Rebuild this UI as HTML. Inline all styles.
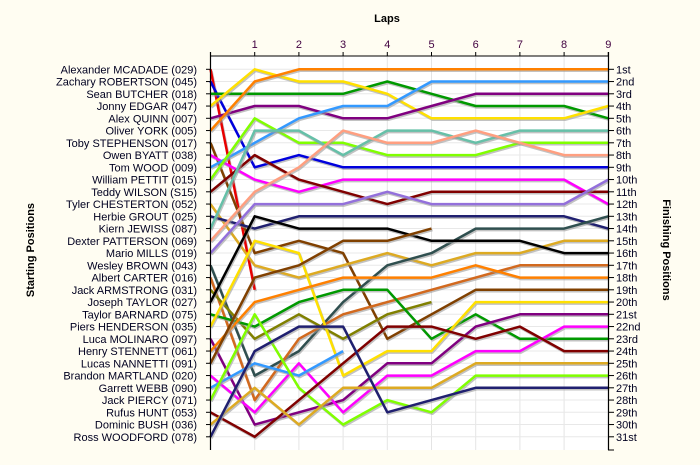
<!DOCTYPE html>
<html><head><meta charset="utf-8"><style>
html,body{margin:0;padding:0;background:#fffdf2;}
svg{display:block;font-family:"Liberation Sans",sans-serif;}
</style></head><body>
<svg id="chart" width="700" height="465" xmlns="http://www.w3.org/2000/svg">
<rect x="0" y="0" width="700" height="465" fill="#fffdf2"/>
<rect x="210" y="56" width="398" height="394" fill="#ffffff"/>
<g id="grid"></g>
<g id="series"></g>
<g id="axes"></g>
<text x="387" y="22" text-anchor="middle" font-size="11" font-weight="bold">Laps</text>
<text transform="translate(34,250) rotate(-90)" text-anchor="middle" font-size="11" font-weight="bold">Starting Positions</text>
<text transform="translate(663,250) rotate(90)" text-anchor="middle" font-size="11" font-weight="bold">Finishing Positions</text>
</svg>
<script>
const laps = [1,2,3,4,5,6,7,8,9];
const drivers = ["Alexander MCADADE (029)","Zachary ROBERTSON (045)","Sean BUTCHER (018)","Jonny EDGAR (047)","Alex QUINN (007)","Oliver YORK (005)","Toby STEPHENSON (017)","Owen BYATT (038)","Tom WOOD (009)","William PETTIT (015)","Teddy WILSON (S15)","Tyler CHESTERTON (052)","Herbie GROUT (025)","Kiern JEWISS (087)","Dexter PATTERSON (069)","Mario MILLS (019)","Wesley BROWN (043)","Albert CARTER (016)","Jack ARMSTRONG (031)","Joseph TAYLOR (027)","Taylor BARNARD (075)","Piers HENDERSON (035)","Luca MOLINARO (097)","Henry STENNETT (061)","Lucas NANNETTI (091)","Brandon MARTLAND (020)","Garrett WEBB (090)","Jack PIERCY (071)","Rufus HUNT (053)","Dominic BUSH (036)","Ross WOODFORD (078)"];
const finishLabels = ["1st","2nd","3rd","4th","5th","6th","7th","8th","9th","10th","11th","12th","13th","14th","15th","16th","17th","18th","19th","20th","21st","22nd","23rd","24th","25th","26th","27th","28th","29th","30th","31st"];
const colors = ["#e80000","#0000dd","#009900","#ffe000","#800080","#ff8000","#804000","#ff00ff","#3399ff","#80ff00","#800000","#ddaa22","#202070","#66c0a8","#ff9f80","#9370db","#2f4f4f","#d2691e","#808000","#000000","#009900","#ffe000","#800080","#ff8000","#804000","#ff00ff","#3399ff","#80ff00","#800000","#ddaa22","#202070"];
const p01 = [1,19];
const p02 = [2,9,8,9,9,9,9,9,9,9];
const p03 = [3,3,3,3,2,3,4,4,4,5];
const p04 = [4,1,2,2,3,5,5,5,5,4];
const p05 = [5,4,4,5,5,4,3,3,3,3];
const p06 = [6,2,1,1,1,1,1,1,1,1];
const p07 = [7,16,15,16,23,21,19,19,19,19];
const p08 = [8,10,11,10,10,10,10,10,10,12];
const p09 = [9,7,5,4,4,2,2,2,2,2];
const p10 = [10,5,7,7,8,8,8,7,7,7];
const p11 = [11,8,10,11,12,11,11,11,11,11];
const p12 = [12,17,18,17,16,17,16,16,15,15];
const p13 = [13,14,13,13,13,13,13,13,13,14];
const p14 = [14,6,6,8,6,6,7,6,6,6];
const p15 = [15,11,9,6,7,7,6,7,8,8];
const p16 = [16,12,12,12,11,12,12,12,12,10];
const p17 = [17,26,24,20,17,16,14,14,14,13];
const p18 = [18,28,23,21,20,19,18,17,17,17];
const p19 = [19,23,21,23,21,20];
const p20 = [20,13,14,14,14,15,15,15,16,16];
const p21 = [21,22,20,19,19,23,21,23,23,23];
const p22 = [22,15,16,26,24,24,20,20,20,20];
const p23 = [23,30,29,28,25,25,22,21,21,21];
const p24 = [24,20,19,18,18,18,17,18,18,18];
const p25 = [25,18,17,15,15,14];
const p26 = [26,29,25,29,26,26,24,24,22,22];
const p27 = [27,25,26,24];
const p28 = [28,21,27,30,28,29,26,26,26,26];
const p29 = [29,31,28,25,22,22,23,22,24,24];
const p30 = [30,27,30,27,27,27,25,25,25,25];
const p31 = [31,24,22,22,29,28,27,27,27,27];
const positions = [p01,p02,p03,p04,p05,p06,p07,p08,p09,p10,p11,p12,p13,p14,p15,p16,p17,p18,p19,p20,p21,p22,p23,p24,p25,p26,p27,p28,p29,p30,p31];

(function(){
const NS = "http://www.w3.org/2000/svg";
const X0 = 210.5, XW = 44.2, Y0 = 69.3, YH = 12.25;
function xs(l){ return X0 + l*XW; }
function ys(r){ return Y0 + (r-1)*YH; }
function mk(tag, attrs, parent){ const e=document.createElementNS(NS,tag); for(const k in attrs) e.setAttribute(k,attrs[k]); parent.appendChild(e); return e; }

const gridG = document.getElementById('grid');
for (let i=0;i<laps.length;i++){
  const gl = mk('line',{x1:xs(laps[i]),x2:xs(laps[i]),y1:56,y2:450,stroke:'#e4e4e4','stroke-width':1},gridG);
  
  
}
for (let r=1;r<=31;r++){
  const gl = mk('line',{x1:210,x2:608,y1:ys(r),y2:ys(r),stroke:'#e8e8e8','stroke-width':1},gridG);
  
  
}

const seriesG = document.getElementById('series');
for (let d=0; d<positions.length; d++){
  const pts = positions[d].map((p,l)=> xs(l).toFixed(1)+','+ys(p).toFixed(1)).join(' ');
  const sh = mk('polyline',{points:pts,fill:'none',stroke:'#999','stroke-width':2.5,'stroke-linejoin':'round',transform:'translate(1,1.5)',opacity:0.6},seriesG);
  
  
  const pl = mk('polyline',{points:pts,fill:'none',stroke:colors[d],'stroke-width':2.5,'stroke-linejoin':'round'},seriesG);
  
  
}

const axesG = document.getElementById('axes');
const topAxis = mk('line',{x1:210,x2:608,y1:56,y2:56,stroke:'#000','stroke-width':1},axesG);


const leftAxis = mk('line',{x1:210.5,x2:210.5,y1:52,y2:450,stroke:'#000','stroke-width':1.2},axesG);


const rightAxis = mk('line',{x1:608.5,x2:608.5,y1:52,y2:450,stroke:'#000','stroke-width':1.2},axesG);


for (let i=0;i<laps.length;i++){
  const t = mk('line',{x1:xs(laps[i]),x2:xs(laps[i]),y1:52,y2:56,stroke:'#000'},axesG);
  
  
  const tl = mk('text',{x:xs(laps[i]),y:48,'text-anchor':'middle','font-size':11,fill:'#400040'},axesG);
  tl.textContent = laps[i];
  
  
}
for (let r=0;r<31;r++){
  const lt = mk('text',{x:197,y:ys(r+1)+4,'text-anchor':'end','font-size':11,fill:'#000020'},axesG);
  lt.textContent = drivers[r];
  
  
  const ltk = mk('line',{x1:206,x2:210,y1:ys(r+1),y2:ys(r+1),stroke:'#000'},axesG);
  
  
  const rtk = mk('line',{x1:608,x2:614,y1:ys(r+1),y2:ys(r+1),stroke:'#000'},axesG);
  
  
  const rt = mk('text',{x:616,y:ys(r+1)+4,'font-size':11,fill:'#000020'},axesG);
  rt.textContent = finishLabels[r];
  
  
}
const bt = mk('line',{x1:608,x2:614,y1:450,y2:450,stroke:'#000'},axesG);


})();
</script>
</body></html>
